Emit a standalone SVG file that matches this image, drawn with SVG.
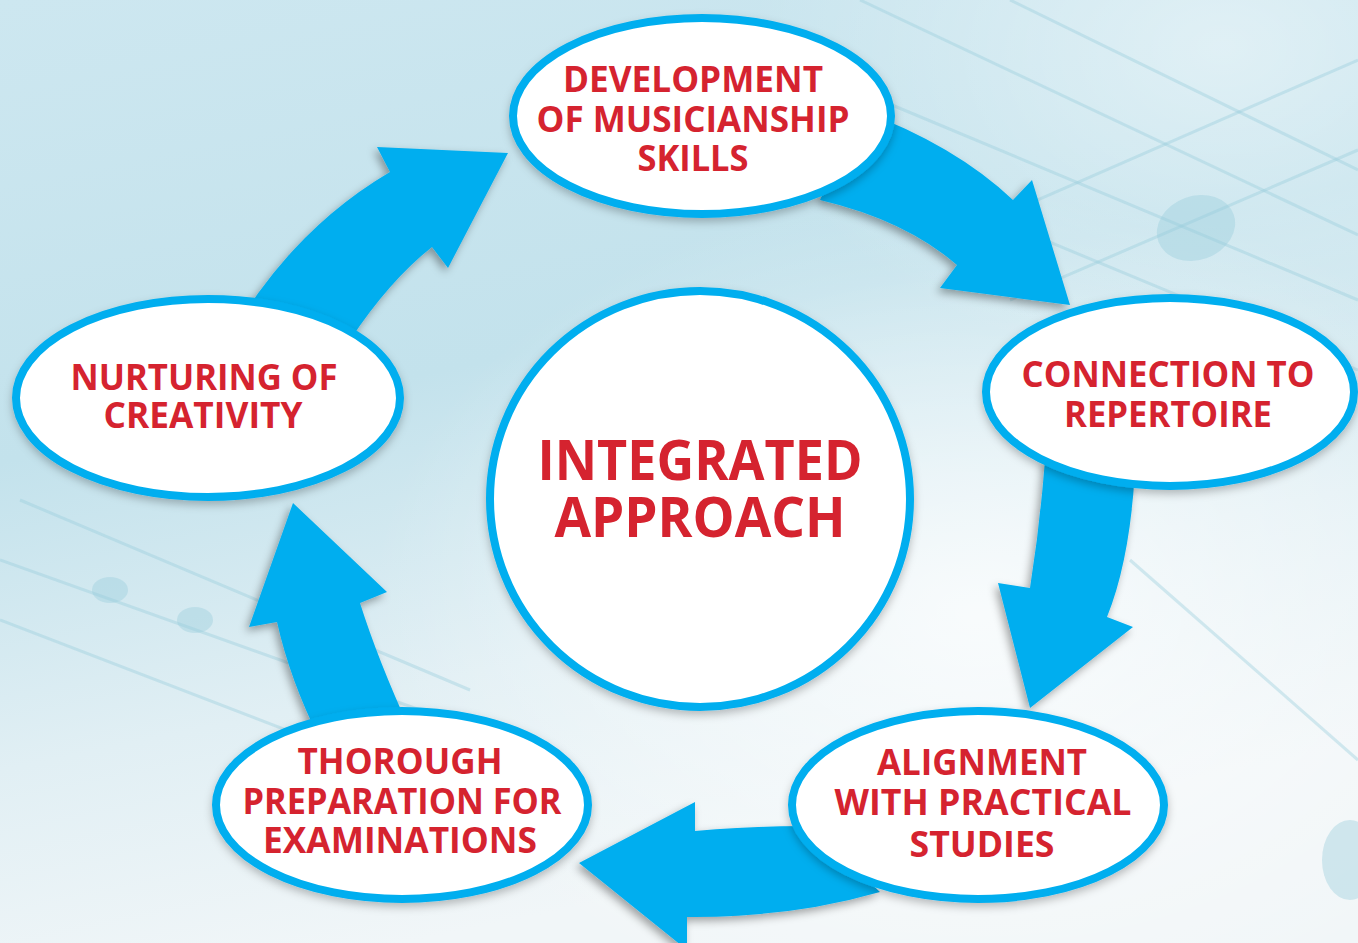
<svg xmlns="http://www.w3.org/2000/svg" width="1358" height="943" viewBox="0 0 1358 943">
  <defs>
    <linearGradient id="bg" x1="0" y1="0" x2="0.3" y2="1">
      <stop offset="0" stop-color="#cde7f0"/>
      <stop offset="0.45" stop-color="#c3e2ec"/>
      <stop offset="0.75" stop-color="#e1eff4"/>
      <stop offset="1" stop-color="#f1f6f8"/>
    </linearGradient>
    <radialGradient id="glow" cx="0.72" cy="0.65" r="0.45">
      <stop offset="0" stop-color="#ffffff" stop-opacity="0.75"/>
      <stop offset="1" stop-color="#ffffff" stop-opacity="0"/>
    </radialGradient>
    <radialGradient id="glow2" cx="0.9" cy="0.05" r="0.35">
      <stop offset="0" stop-color="#ffffff" stop-opacity="0.45"/>
      <stop offset="1" stop-color="#ffffff" stop-opacity="0"/>
    </radialGradient>
    <filter id="shadow" x="-20%" y="-20%" width="140%" height="140%">
      <feDropShadow dx="-3" dy="4" stdDeviation="4" flood-color="#000" flood-opacity="0.35"/>
    </filter>
    <filter id="nshadow" x="-10%" y="-10%" width="120%" height="130%">
      <feDropShadow dx="0" dy="4" stdDeviation="4" flood-color="#000" flood-opacity="0.25"/>
    </filter>
  </defs>
  <style>
    .arrow { fill: #00aeef; filter: url(#shadow); }
    .node { fill: #ffffff; stroke: #00aeef; stroke-width: 8; filter: url(#nshadow); }
    .lbl { font-family: "Open Sans", "Liberation Sans", sans-serif; font-weight: bold; font-size: 36px; fill: #d5232f; text-anchor: middle; }
    .big { font-size: 56px; }
    .staff { fill: none; stroke: #98cddd; stroke-width: 3; opacity: 0.4; }
    .note { fill: #98cddd; opacity: 0.4; }
  </style>

  <!-- background -->
  <rect x="0" y="0" width="1358" height="943" fill="url(#bg)"/>
  <rect x="0" y="0" width="1358" height="943" fill="url(#glow)"/>
  <rect x="0" y="0" width="1358" height="943" fill="url(#glow2)"/>
  <g id="background-staff">
    <path class="staff" d="M860 0 L1358 235"/>
    <path class="staff" d="M880 100 L1358 300"/>
    <path class="staff" d="M900 180 L1358 370"/>
    <path class="staff" d="M1010 0 L1358 170"/>
    <path class="staff" d="M980 225 L1358 60"/>
    <path class="staff" d="M1010 300 L1358 150"/>
    <path class="staff" d="M0 560 L560 760"/>
    <path class="staff" d="M0 620 L520 820"/>
    <path class="staff" d="M20 500 L470 690"/>
    <path class="staff" d="M1130 560 L1358 760"/>
    <ellipse class="note" cx="1196" cy="228" rx="40" ry="32" transform="rotate(-20 1196 228)"/>
    <ellipse class="note" cx="1350" cy="860" rx="28" ry="40"/>
    <ellipse class="note" cx="110" cy="590" rx="18" ry="13"/>
    <ellipse class="note" cx="195" cy="620" rx="18" ry="13"/>
  </g>

  <!-- connectors -->
  <g id="connectors">
    <!-- Nurturing -> Development -->
    <path class="arrow" d="M240 320 Q300 225 390 172 L377 147 L508 153 L448 268 L432 247 Q390 280 350 340 Z"/>
    <!-- Development -> Connection -->
    <path class="arrow" d="M860 110 Q955 145 1013 200 L1032 180 L1070 305 L940 288 L957 265 Q905 220 820 200 Z"/>
    <!-- Connection -> Alignment -->
    <path class="arrow" d="M1045 460 Q1040 525 1030 588 L998 583 L1030 708 L1133 627 L1107 617 Q1130 560 1135 470 Z"/>
    <!-- Alignment -> Thorough -->
    <path class="arrow" d="M810 826 Q750 826 695 831 L695 802 L579 863 L687 950 L687 917 Q790 918 880 892 Z"/>
    <!-- Thorough -> Nurturing -->
    <path class="arrow" d="M320 740 Q290 680 277 622 L249 627 L293 503 L387 592 L360 603 Q378 660 410 730 Z"/>
  </g>

  <!-- nodes -->
  <g id="node-development">
    <ellipse class="node" cx="702" cy="116" rx="189" ry="98"/>
    <text class="lbl" x="693" y="92" textLength="260" lengthAdjust="spacingAndGlyphs">DEVELOPMENT</text>
    <text class="lbl" x="693" y="132" textLength="313" lengthAdjust="spacingAndGlyphs">OF MUSICIANSHIP</text>
    <text class="lbl" x="693" y="171" textLength="111" lengthAdjust="spacingAndGlyphs">SKILLS</text>
  </g>
  <g id="node-connection">
    <ellipse class="node" cx="1170" cy="392" rx="184" ry="94"/>
    <text class="lbl" x="1168" y="387" textLength="293" lengthAdjust="spacingAndGlyphs">CONNECTION TO</text>
    <text class="lbl" x="1168" y="427" textLength="208" lengthAdjust="spacingAndGlyphs">REPERTOIRE</text>
  </g>
  <g id="node-alignment">
    <ellipse class="node" cx="978" cy="805" rx="186" ry="94"/>
    <text class="lbl" x="982" y="775" textLength="210" lengthAdjust="spacingAndGlyphs">ALIGNMENT</text>
    <text class="lbl" x="983" y="815" textLength="297" lengthAdjust="spacingAndGlyphs">WITH PRACTICAL</text>
    <text class="lbl" x="982" y="857" textLength="145" lengthAdjust="spacingAndGlyphs">STUDIES</text>
  </g>
  <g id="node-thorough">
    <ellipse class="node" cx="402" cy="805" rx="186" ry="94"/>
    <text class="lbl" x="400" y="774" textLength="205" lengthAdjust="spacingAndGlyphs">THOROUGH</text>
    <text class="lbl" x="402" y="814" textLength="319" lengthAdjust="spacingAndGlyphs">PREPARATION FOR</text>
    <text class="lbl" x="400" y="853" textLength="274" lengthAdjust="spacingAndGlyphs">EXAMINATIONS</text>
  </g>
  <g id="node-nurturing">
    <ellipse class="node" cx="208" cy="398" rx="192" ry="99"/>
    <text class="lbl" x="204" y="390" textLength="267" lengthAdjust="spacingAndGlyphs">NURTURING OF</text>
    <text class="lbl" x="203" y="428" textLength="199" lengthAdjust="spacingAndGlyphs">CREATIVITY</text>
  </g>
  <g id="node-center">
    <ellipse class="node" cx="700" cy="499" rx="210" ry="208"/>
    <text class="lbl big" x="700" y="480" textLength="325" lengthAdjust="spacingAndGlyphs">INTEGRATED</text>
    <text class="lbl big" x="700" y="537" textLength="291" lengthAdjust="spacingAndGlyphs">APPROACH</text>
  </g>
</svg>
